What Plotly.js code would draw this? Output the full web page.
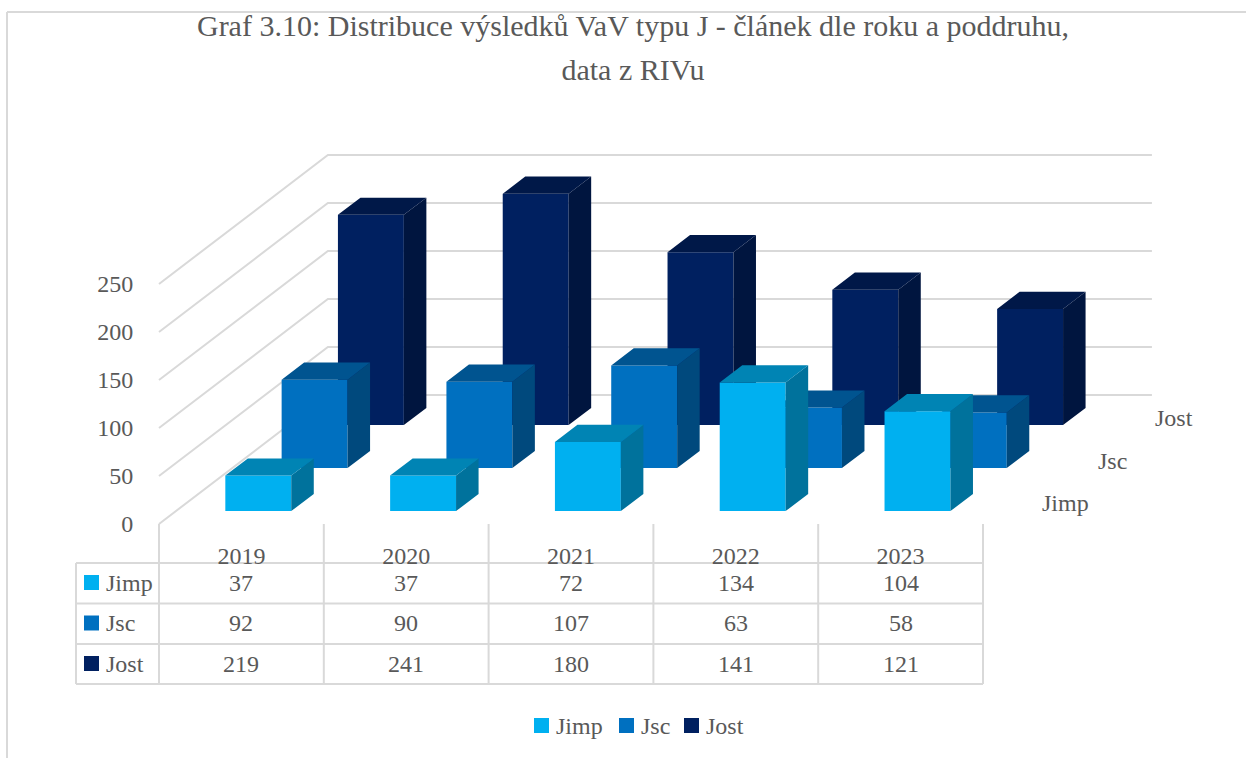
<!DOCTYPE html>
<html>
<head>
<meta charset="utf-8">
<script src="https://cdn.plot.ly/plotly-3.0.1.min.js"></script>
<style>html,body{margin:0;padding:0;background:#fff}#chart{width:1246px;height:758px}</style>
</head>
<body>
<div id="chart"></div>
<script>
// ---- data ----
const years = ['2019', '2020', '2021', '2022', '2023'];
const seriesNames = ['Jimp', 'Jsc', 'Jost'];
const jimp = [37, 37, 72, 134, 104];
const jsc = [92, 90, 107, 63, 58];
const jost = [219, 241, 180, 141, 121];
const yTicks = [0, 50, 100, 150, 200, 250];
const frontColors = ['#00B0F0', '#0070C0', '#002060'];
const topColors = ['#0084B4', '#005490', '#001848'];
const sideColors = ['#00729C', '#00497D', '#00153F'];

const seriesValues = [jimp, jsc, jost];
const W = 1246, H = 758;
const FONT = '"Liberation Serif", serif';
const TXT = '#595959', GRID = '#d9d9d9';

// Page geometry of the oblique projection
const catPx = 164.8, x0Px = 159, y0Px = 524, unitPx = 0.96;
const depthXPx = 56.3, depthYPx = 43;
const SX = depthXPx / catPx, SY = depthYPx / unitPx;
const px = (c, s) => c + s * SX;
const py = (v, s) => v + s * SY;

const traces = [];
function add(xs, ys, color) {
  traces.push({type: 'scatter', mode: 'lines', x: xs, y: ys, fill: 'toself', fillcolor: color,
    line: {width: 0, color: color}, hoverinfo: 'skip', showlegend: false});
}
// Wall and floor gridlines
yTicks.forEach(v => {
  traces.push({type: 'scatter', mode: 'lines',
    x: [px(0, 0), px(0, 3), px(5, 3)], y: [py(v, 0), py(v, 3), py(v, 3)],
    line: {color: GRID, width: 2}, hoverinfo: 'skip', showlegend: false});
});
// Bars, back series first
for (let k = seriesNames.length - 1; k >= 0; k--) {
  const f = {x: [], y: []}, sd = {x: [], y: []}, t = {x: [], y: []};
  const poly = (o, pts) => {
    pts.forEach(p => { o.x.push(px(p[0], p[1])); o.y.push(py(p[2], p[1])); });
    o.x.push(null); o.y.push(null);
  };
  seriesValues[k].forEach((val, i) => {
    const c0 = i + 0.3, c1 = i + 0.7, s0 = k + 0.3, s1 = k + 0.7;
    poly(f, [[c0, s0, 0], [c1, s0, 0], [c1, s0, val], [c0, s0, val]]);
    poly(sd, [[c1, s0, 0], [c1, s1, 0], [c1, s1, val], [c1, s0, val]]);
    poly(t, [[c0, s0, val], [c1, s0, val], [c1, s1, val], [c0, s1, val]]);
  });
  add(f.x, f.y, frontColors[k]);
  add(sd.x, sd.y, sideColors[k]);
  add(t.x, t.y, topColors[k]);
}

// ---- table, legend and depth labels ----
const pX = x => x / W, pY = y => 1 - y / H;
const shapes = [], annotations = [];
const seg = (x1, y1, x2, y2) => shapes.push({type: 'line', xref: 'paper', yref: 'paper',
  x0: pX(x1), y0: pY(y1), x1: pX(x2), y1: pY(y2), line: {color: GRID, width: 2}, layer: 'below'});
const label = (x, y, text, anchor) => annotations.push({xref: 'paper', yref: 'paper', x: pX(x), y: pY(y),
  text: text, showarrow: false, xanchor: anchor, yanchor: 'middle', borderpad: 0,
  font: {family: FONT, size: 24, color: TXT}});
const swatch = (x, y, color) => shapes.push({type: 'rect', xref: 'paper', yref: 'paper',
  x0: pX(x), x1: pX(x + 15), y0: pY(y - 7.5), y1: pY(y + 7.5), fillcolor: color, line: {width: 0}});

// chart frame
seg(7, 12, 1246, 12);
seg(7, 12, 7, 758);

const tableLeft = 76, rowY = [563, 603.5, 644, 684], rowMid = [582.5, 623, 663.5];
rowY.forEach(y => seg(tableLeft, y, x0Px + 5 * catPx, y));
seg(tableLeft, rowY[0], tableLeft, rowY[3]);
for (let i = 0; i <= years.length; i++) seg(x0Px + i * catPx, y0Px, x0Px + i * catPx, rowY[3]);
seriesNames.forEach((n, k) => {
  swatch(84, rowMid[k], frontColors[k]);
  label(105, rowMid[k], n, 'left');
  seriesValues[k].forEach((v, i) => label(x0Px + (i + 0.5) * catPx, rowMid[k], String(v), 'center'));
});
// bottom legend
[534, 619, 684].forEach((x, k) => {
  swatch(x, 725.5, frontColors[k]);
  label(x + 21, 726, seriesNames[k], 'left');
});
// depth-axis labels
label(1041, 503, seriesNames[0], 'left');
label(1097, 461, seriesNames[1], 'left');
label(1154, 418, seriesNames[2], 'left');

const layout = {
  width: W, height: H,
  margin: {l: 0, r: 0, t: 0, b: 0, pad: 0},
  paper_bgcolor: '#fff', plot_bgcolor: '#fff',
  showlegend: false,
  title: {
    text: '<span style="font-size:30px">Graf 3.10: Distribuce výsledků VaV typu J - článek dle roku a poddruhu,</span><br><span style="font-size:30px">data z RIVu</span>',
    font: {family: FONT, size: 34, color: TXT},
    xref: 'paper', yref: 'paper', x: 633 / W, xanchor: 'center', y: 1 - 36 / H, yanchor: 'top'
  },
  xaxis: {
    range: [-x0Px / catPx, (W - x0Px) / catPx],
    tickmode: 'array', tickvals: years.map((_, i) => i + 0.5), ticktext: years,
    anchor: 'free', position: 1 - y0Px / H,
    showgrid: false, zeroline: false, showline: false,
    ticks: 'outside', ticklen: 10, tickcolor: 'rgba(0,0,0,0)',
    tickfont: {family: FONT, size: 24, color: TXT}
  },
  yaxis: {
    range: [(y0Px - H) / unitPx, y0Px / unitPx],
    tickmode: 'array', tickvals: yTicks, ticktext: yTicks.map(String),
    anchor: 'free', position: x0Px / W,
    showgrid: false, zeroline: false, showline: false,
    ticks: 'outside', ticklen: 21, tickcolor: 'rgba(0,0,0,0)',
    tickfont: {family: FONT, size: 24, color: TXT}
  },
  shapes: shapes,
  annotations: annotations
};
Plotly.newPlot('chart', traces, layout, {displayModeBar: false, responsive: false});
</script>
</body>
</html>
